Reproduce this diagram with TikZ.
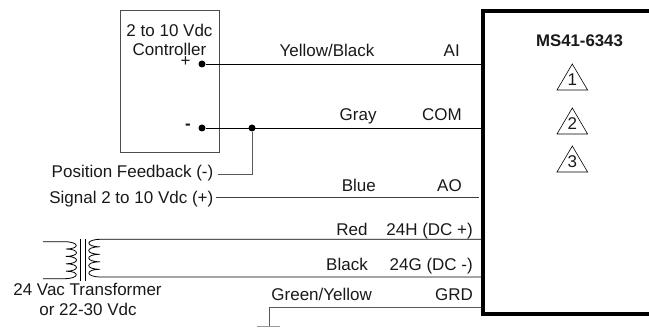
\documentclass[tikz,border=0pt]{standalone}
\usepackage{fontspec}
\setmainfont{Liberation Sans}
\tikzset{
  x=1pt,y=-1pt,
  wire/.style={draw=black,line width=0.8pt},
  thin wire/.style={draw=black!65,line width=0.9pt},
  lbl/.style={font=\fontsize{17pt}{19.5pt}\selectfont,inner sep=0pt,text=black!90},
  junction/.style={circle,fill=black,inner sep=0pt,minimum size=7pt},
}
\begin{document}
\begin{tikzpicture}
\useasboundingbox (0,0) rectangle (649,328);
% controller
\node[draw=black!70,line width=0.9pt,minimum width=98.5pt,minimum height=142.5pt,inner sep=0pt] (ctrl) at (170,81.7) {};
\node[lbl,anchor=base] (ctrlA) at (169.5,37) {2 to 10 Vdc};
\node[lbl,anchor=base] (ctrlB) at (169.5,56) {Controller};
\node[lbl,font=\fontsize{17pt}{19pt}\selectfont] (plus) at (185.5,62) {+};
\node[lbl,font=\fontsize{17pt}{19pt}\selectfont\bfseries] (minus) at (188,127) {-};
\node[junction] (jp) at (202,64) {};
\node[junction] (jm) at (202,128) {};
\node[junction] (jf) at (252,128) {};
% actuator box
\coordinate (bTL) at (483,11.5);
\coordinate (bBL) at (483,314.5);
\coordinate (bTR) at (649,11.5);
\coordinate (bBR) at (649,314.5);
\draw[line width=4pt] (bTR) -- (bTL) -- (bBL) -- (bBR);
\node[lbl,font=\fontsize{16.8pt}{19pt}\selectfont\bfseries,anchor=base] (model) at (579.5,46.5) {MS41-6343};
% badges
\foreach \n/\cx/\ap/\nb in {1/572.3/64/86, 2/572.3/108/130, 3/572.3/146/168}{
  \node[lbl,anchor=base] (t\n) at (\cx,\nb) {\n};
  \draw[line width=0.6pt] (\cx-15.3,\ap+26) -- (\cx,\ap) -- (\cx+15.3,\ap+26) -- cycle;
}
% terminal anchors
\coordinate (tAI) at (481,64);
\coordinate (tCOM) at (481,128);
\coordinate (tAO) at (479,197.3);
\coordinate (tH) at (481,239.3);
\coordinate (tG) at (481,277);
\coordinate (tGRD) at (481,307.7);
\draw[wire] (jp) -- (tAI);
\draw[wire] (jm) -- (tCOM);
\draw[thin wire] (jf) |- (218,174.5);
% feedback labels
\node[lbl,anchor=base east] (fb) at (213.5,178) {Position Feedback (-)};
\node[lbl,anchor=base east] (sig) at (213.5,204) {Signal 2 to 10 Vdc (+)};
\coordinate (sigend) at (216,197.3);
\draw[draw=black!75,line width=0.8pt] (sigend) -- (tAO);
% wire labels
\node[lbl,anchor=base] at (327,56.7) {Yellow/Black};
\node[lbl,anchor=base east] at (460,57) {AI};
\node[lbl,anchor=base east] at (376.7,120.7) {Gray};
\node[lbl,anchor=base east] at (462,120.7) {COM};
\node[lbl,anchor=base east] at (376,191.7) {Blue};
\node[lbl,anchor=base east] at (462,191.7) {AO};
\node[lbl,anchor=base east] at (367.7,235.7) {Red};
\node[lbl,anchor=base east] at (473,235.7) {24H (DC +)};
\node[lbl,anchor=base east] at (368,271) {Black};
\node[lbl,anchor=base east] at (473,271) {24G (DC -)};
\node[lbl,anchor=base] at (321.7,301) {Green/Yellow};
\node[lbl,anchor=base east] at (473,301) {GRD};
% transformer
\coordinate (pT) at (43,241.7);
\coordinate (pB) at (43,278.7);
\draw[wire] (pT) -- (64,241.7) .. controls (80,241.7) and (80,249) .. (66,249)
 .. controls (80,249) and (80,256.4) .. (66,256.4)
 .. controls (80,256.4) and (80,263.8) .. (66,263.8)
 .. controls (80,263.8) and (80,271.2) .. (66,271.2)
 .. controls (80,271.2) and (80,278.7) .. (64,278.7) -- (pB);
\draw[line width=0.7pt] (80.7,239) -- (80.7,281);
\draw[line width=0.7pt] (85,239) -- (85,281);
\draw[wire] (tH) -- (101,239.3) .. controls (85,239.3) and (85,246.8) .. (100,246.8)
 .. controls (85,246.8) and (85,254.3) .. (100,254.3)
 .. controls (85,254.3) and (85,261.8) .. (100,261.8)
 .. controls (85,261.8) and (85,269.3) .. (100,269.3)
 .. controls (85,269.3) and (85,277) .. (101,277) -- (tG);
\node[lbl,anchor=base] at (87.5,296) {24 Vac Transformer};
\node[lbl,anchor=base] at (88,316) {or 22-30 Vdc};
% ground
\coordinate (gnd) at (269,326);
\draw[thin wire] (tGRD) -| (gnd);
\draw[draw=black!40,line width=1pt] (257,326.5) -- (280,326.5);
\end{tikzpicture}
\end{document}
